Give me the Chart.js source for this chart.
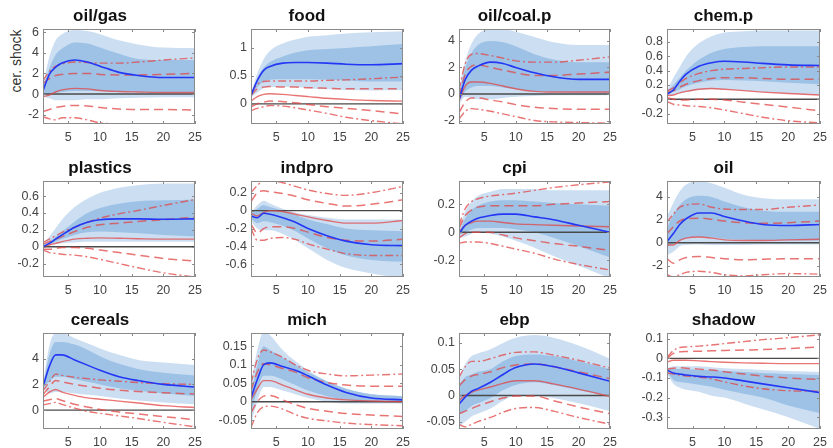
<!DOCTYPE html>
<html>
<head>
<meta charset="utf-8">
<script src="https://cdn.jsdelivr.net/npm/chart.js@4.4.1/dist/chart.umd.min.js"></script>
<style>
  body { margin:0; background:#fff; width:833px; height:448px; position:relative; overflow:hidden; }
  canvas { position:absolute; }
  #ylab { position:absolute; left:16px; top:61px; transform:translate(-50%,-50%) rotate(-90deg);
          font:14px 'Liberation Sans', Arial, sans-serif; color:#333; white-space:nowrap; }
</style>
</head>
<body>
<div id="ylab">cer. shock</div>
<script>
var horizons = [1, 2, 3, 4, 6, 8, 10, 13, 16, 20, 25];
var xTicks = [5, 10, 15, 20, 25];

var titles = ["oil/gas", "food", "oil/coal.p", "chem.p", "plastics", "indpro", "cpi", "oil", "cereals", "mich", "ebp", "shadow"];

var yMin = [-2.9, -0.36, -2.26, -0.345, -0.36, -0.74, -0.32, -3.0, -1.47, -0.074, -0.064, -0.36];
var yMax = [6.3, 1.34, 4.9, 0.98, 0.78, 0.33, 0.367, 5.4, 6.0, 0.186, 0.119, 0.129];
var yTicks = [
  [-2, 0, 2, 4, 6], [0, 0.5, 1], [-2, 0, 2, 4], [-0.2, 0, 0.2, 0.4, 0.6, 0.8],
  [-0.2, 0, 0.2, 0.4, 0.6], [-0.6, -0.4, -0.2, 0, 0.2], [-0.2, 0, 0.2], [-2, 0, 2, 4],
  [0, 2, 4], [-0.05, 0, 0.05, 0.1, 0.15], [-0.05, 0, 0.05, 0.1], [-0.3, -0.2, -0.1, 0, 0.1]
];

// blue median response
var median = [
  [0.3, 1.9, 2.6, 3.0, 3.3, 3.1, 2.7, 2.1, 1.8, 1.6, 1.6],
  [0.15, 0.42, 0.6, 0.67, 0.73, 0.74, 0.74, 0.73, 0.71, 0.7, 0.72],
  [-0.45, 1.1, 1.8, 2.1, 2.4, 2.3, 2.0, 1.6, 1.3, 1.1, 1.1],
  [0.07, 0.13, 0.25, 0.35, 0.46, 0.51, 0.53, 0.52, 0.5, 0.48, 0.47],
  [0.0, 0.04, 0.09, 0.14, 0.23, 0.29, 0.32, 0.33, 0.33, 0.325, 0.33],
  [-0.06, -0.08, -0.03, -0.04, -0.08, -0.13, -0.2, -0.28, -0.34, -0.38, -0.39],
  [-0.01, 0.05, 0.08, 0.1, 0.12, 0.13, 0.13, 0.11, 0.09, 0.05, 0.0],
  [0.1, 0.8, 1.6, 2.1, 2.6, 2.6, 2.3, 1.9, 1.6, 1.5, 1.6],
  [1.8, 3.4, 4.3, 4.3, 3.9, 3.5, 3.1, 2.6, 2.3, 2.0, 1.8],
  [0.01, 0.06, 0.1, 0.105, 0.095, 0.085, 0.07, 0.045, 0.025, 0.01, 0.005],
  [-0.017, -0.003, 0.008, 0.013, 0.025, 0.04, 0.053, 0.06, 0.055, 0.043, 0.027],
  [-0.06, -0.075, -0.08, -0.085, -0.092, -0.095, -0.1, -0.115, -0.13, -0.15, -0.175]
];

// shaded bands
var outerHi = [
  [0.9, 3.6, 5.2, 5.8, 6.2, 6.1, 5.8, 5.2, 4.8, 4.5, 4.45],
  [0.2, 0.55, 0.8, 0.95, 1.08, 1.15, 1.2, 1.23, 1.26, 1.28, 1.3],
  [0.3, 2.5, 3.8, 4.5, 4.9, 4.9, 4.7, 4.3, 3.9, 3.7, 3.7],
  [0.12, 0.3, 0.45, 0.6, 0.78, 0.88, 0.93, 0.95, 0.96, 0.96, 0.96],
  [0.02, 0.12, 0.22, 0.32, 0.47, 0.57, 0.64, 0.7, 0.73, 0.75, 0.75],
  [-0.02, 0.06, 0.11, 0.08, 0.02, -0.02, -0.05, -0.08, -0.1, -0.1, -0.1],
  [0.02, 0.15, 0.22, 0.26, 0.29, 0.31, 0.31, 0.31, 0.3, 0.3, 0.3],
  [2.3, 3.5, 4.5, 5.1, 5.4, 5.2, 4.8, 4.2, 3.9, 3.8, 3.8],
  [2.0, 5.0, 6.0, 6.0, 5.6, 5.2, 4.8, 4.3, 3.9, 3.7, 3.5],
  [0.05, 0.14, 0.19, 0.18, 0.14, 0.11, 0.085, 0.055, 0.035, 0.02, 0.015],
  [0.035, 0.06, 0.075, 0.08, 0.088, 0.1, 0.11, 0.115, 0.11, 0.095, 0.07],
  [-0.05, -0.04, -0.04, -0.04, -0.04, -0.045, -0.05, -0.055, -0.06, -0.065, -0.07]
];
var outerLo = [
  [-0.25, -0.4, -0.6, -0.6, -0.6, -0.5, -0.5, -0.4, -0.35, -0.3, -0.3],
  [0.12, 0.2, 0.28, 0.3, 0.3, 0.3, 0.28, 0.26, 0.25, 0.24, 0.25],
  [-0.8, -0.2, -0.3, -0.4, -0.4, -0.3, -0.2, -0.15, -0.1, -0.1, -0.1],
  [0.05, 0.06, 0.08, 0.1, 0.13, 0.14, 0.14, 0.12, 0.1, 0.08, 0.06],
  [0.0, 0.02, 0.03, 0.04, 0.05, 0.06, 0.06, 0.06, 0.06, 0.06, 0.06],
  [-0.12, -0.2, -0.22, -0.22, -0.26, -0.33, -0.42, -0.55, -0.64, -0.7, -0.76],
  [-0.04, -0.03, -0.01, 0.0, -0.01, -0.03, -0.06, -0.11, -0.17, -0.24, -0.33],
  [-1.1, -0.8, -0.3, -0.2, -0.15, -0.2, -0.2, -0.2, -0.15, -0.15, -0.15],
  [1.8, 1.3, 1.4, 1.4, 1.3, 1.2, 1.1, 0.9, 0.75, 0.6, 0.45],
  [-0.06, 0.0, 0.04, 0.04, 0.03, 0.02, 0.01, 0.0, -0.005, -0.005, -0.005],
  [-0.06, -0.05, -0.04, -0.035, -0.025, -0.01, 0.0, 0.0, -0.005, -0.015, -0.03],
  [-0.08, -0.13, -0.15, -0.16, -0.17, -0.19, -0.2, -0.23, -0.26, -0.3, -0.36]
];
var innerHi = [
  [0.6, 2.5, 3.8, 4.4, 5.0, 4.9, 4.5, 3.9, 3.4, 3.3, 3.3],
  [0.18, 0.45, 0.65, 0.75, 0.85, 0.92, 0.96, 0.98, 1.0, 1.03, 1.07],
  [0.0, 2.0, 3.1, 3.7, 4.0, 3.9, 3.6, 3.0, 2.6, 2.4, 2.4],
  [0.1, 0.2, 0.3, 0.4, 0.55, 0.65, 0.7, 0.73, 0.74, 0.74, 0.74],
  [0.01, 0.06, 0.12, 0.18, 0.3, 0.4, 0.46, 0.51, 0.54, 0.55, 0.56],
  [-0.03, 0.02, 0.06, 0.04, 0.0, -0.05, -0.1, -0.15, -0.2, -0.22, -0.23],
  [0.0, 0.1, 0.16, 0.19, 0.22, 0.23, 0.23, 0.22, 0.21, 0.2, 0.19],
  [1.3, 2.5, 3.3, 3.8, 4.1, 4.0, 3.6, 3.1, 2.8, 2.7, 2.7],
  [1.9, 4.3, 5.3, 5.3, 5.1, 4.7, 4.2, 3.6, 3.2, 2.9, 2.7],
  [0.02, 0.1, 0.15, 0.14, 0.12, 0.1, 0.08, 0.055, 0.035, 0.02, 0.015],
  [0.02, 0.035, 0.04, 0.045, 0.05, 0.065, 0.075, 0.078, 0.075, 0.065, 0.05],
  [-0.055, -0.055, -0.055, -0.055, -0.06, -0.06, -0.065, -0.07, -0.075, -0.08, -0.085]
];
var innerLo = [
  [0.0, 0.0, 0.1, 0.2, 0.3, 0.3, 0.3, 0.2, 0.2, 0.1, 0.1],
  [0.15, 0.3, 0.4, 0.43, 0.44, 0.44, 0.44, 0.43, 0.42, 0.4, 0.4],
  [-0.6, 0.2, 0.5, 0.6, 0.6, 0.5, 0.35, 0.2, 0.15, 0.1, 0.1],
  [0.07, 0.1, 0.14, 0.18, 0.23, 0.26, 0.27, 0.26, 0.25, 0.23, 0.21],
  [0.0, 0.03, 0.06, 0.09, 0.14, 0.17, 0.18, 0.17, 0.16, 0.14, 0.12],
  [-0.09, -0.14, -0.12, -0.13, -0.17, -0.23, -0.31, -0.42, -0.5, -0.55, -0.57],
  [-0.02, 0.0, 0.02, 0.03, 0.03, 0.03, 0.02, 0.0, -0.04, -0.1, -0.18],
  [-0.4, -0.1, 0.2, 0.4, 0.5, 0.45, 0.35, 0.25, 0.2, 0.2, 0.2],
  [1.8, 2.2, 2.6, 2.6, 2.4, 2.2, 2.0, 1.7, 1.5, 1.3, 1.1],
  [-0.03, 0.03, 0.07, 0.07, 0.06, 0.045, 0.03, 0.015, 0.005, 0.0, 0.0],
  [-0.035, -0.03, -0.02, -0.015, -0.005, 0.01, 0.02, 0.025, 0.02, 0.01, 0.0],
  [-0.07, -0.11, -0.12, -0.125, -0.135, -0.145, -0.16, -0.18, -0.2, -0.24, -0.28]
];

// red comparison responses: solid, dashed bounds, dash-dot bounds
var redMid = [
  [-0.25, -0.1, 0.2, 0.4, 0.55, 0.5, 0.35, 0.25, 0.2, 0.15, 0.15],
  [0.05, 0.13, 0.17, 0.18, 0.17, 0.15, 0.13, 0.1, 0.08, 0.06, 0.05],
  [-0.5, 0.6, 0.9, 0.9, 0.8, 0.6, 0.4, 0.2, 0.15, 0.15, 0.15],
  [0.05, 0.06, 0.09, 0.11, 0.14, 0.15, 0.14, 0.12, 0.1, 0.08, 0.06],
  [0.0, 0.02, 0.04, 0.06, 0.09, 0.1, 0.105, 0.1, 0.095, 0.09, 0.09],
  [-0.03, -0.06, -0.02, 0.0, -0.01, -0.04, -0.07, -0.11, -0.14, -0.14, -0.11],
  [0.0, 0.05, 0.07, 0.08, 0.08, 0.07, 0.06, 0.055, 0.05, 0.045, 0.04],
  [-0.2, -0.2, 0.2, 0.4, 0.5, 0.4, 0.25, 0.2, 0.2, 0.25, 0.3],
  [1.0, 1.4, 1.6, 1.4, 1.15, 0.95, 0.85, 0.7, 0.55, 0.35, 0.2],
  [0.005, 0.035, 0.057, 0.057, 0.045, 0.032, 0.02, 0.01, 0.005, 0.002, 0.0],
  [-0.01, 0.0, 0.006, 0.01, 0.016, 0.023, 0.028, 0.028, 0.022, 0.012, -0.002],
  [-0.02, -0.01, -0.01, -0.01, -0.013, -0.017, -0.02, -0.023, -0.025, -0.027, -0.027]
];
var redDashHi = [
  [1.0, 1.5, 1.8, 1.9, 2.0, 2.0, 1.9, 1.85, 1.85, 1.9, 2.0],
  [0.15, 0.27, 0.3, 0.31, 0.3, 0.3, 0.29, 0.28, 0.27, 0.27, 0.27],
  [-0.2, 1.5, 2.1, 2.2, 2.0, 1.8, 1.6, 1.4, 1.4, 1.5, 1.65],
  [0.1, 0.12, 0.17, 0.21, 0.26, 0.29, 0.3, 0.3, 0.29, 0.28, 0.28],
  [0.03, 0.06, 0.09, 0.12, 0.18, 0.23, 0.26, 0.28, 0.3, 0.32, 0.35],
  [0.1, 0.2, 0.22, 0.21, 0.19, 0.16, 0.12, 0.08, 0.05, 0.07, 0.12],
  [0.03, 0.12, 0.16, 0.18, 0.19, 0.19, 0.19, 0.19, 0.2, 0.21, 0.22],
  [0.8, 1.4, 1.9, 2.1, 2.15, 2.05, 1.9, 1.75, 1.7, 1.75, 1.9],
  [1.2, 1.8, 2.3, 2.2, 2.0, 1.85, 1.7, 1.55, 1.45, 1.35, 1.25],
  [0.03, 0.08, 0.103, 0.1, 0.09, 0.08, 0.065, 0.052, 0.045, 0.042, 0.042],
  [0.018, 0.03, 0.037, 0.04, 0.045, 0.053, 0.058, 0.06, 0.055, 0.045, 0.032],
  [0.0, 0.025, 0.033, 0.035, 0.036, 0.038, 0.04, 0.042, 0.045, 0.05, 0.058]
];
var redDashLo = [
  [-1.7, -1.5, -1.3, -1.2, -1.1, -1.15, -1.3, -1.45, -1.5, -1.5, -1.55],
  [-0.05, 0.0, 0.03, 0.05, 0.04, 0.02, -0.01, -0.05, -0.08, -0.12, -0.18],
  [-1.4, -0.6, -0.3, -0.3, -0.45, -0.6, -0.8, -1.0, -1.1, -1.15, -1.15],
  [0.02, 0.0, -0.01, -0.01, 0.0, 0.0, -0.01, -0.04, -0.07, -0.11, -0.16],
  [-0.03, -0.03, -0.02, -0.01, -0.01, -0.02, -0.04, -0.07, -0.1, -0.14, -0.17],
  [-0.15, -0.25, -0.2, -0.18, -0.18, -0.2, -0.24, -0.3, -0.33, -0.34, -0.32],
  [-0.04, -0.01, 0.0, 0.0, 0.0, -0.02, -0.04, -0.06, -0.08, -0.1, -0.13],
  [-1.4, -1.8, -1.5, -1.3, -1.2, -1.3, -1.4, -1.5, -1.45, -1.4, -1.4],
  [0.7, 0.8, 0.9, 0.75, 0.45, 0.25, 0.05, -0.15, -0.3, -0.5, -0.75],
  [-0.03, 0.0, 0.015, 0.017, 0.005, -0.008, -0.018, -0.026, -0.032, -0.036, -0.04],
  [-0.035, -0.03, -0.025, -0.02, -0.012, -0.005, -0.001, -0.001, -0.01, -0.022, -0.035],
  [-0.055, -0.05, -0.048, -0.05, -0.055, -0.06, -0.068, -0.08, -0.09, -0.1, -0.108]
];
var redDotHi = [
  [1.3, 2.2, 2.7, 2.9, 3.1, 3.05, 3.0, 3.0, 3.1, 3.3, 3.5],
  [0.2, 0.35, 0.4, 0.41, 0.41, 0.41, 0.41, 0.42, 0.43, 0.45, 0.48],
  [0.3, 2.3, 3.0, 3.05, 2.9, 2.7, 2.5, 2.4, 2.4, 2.55, 2.8],
  [0.12, 0.16, 0.23, 0.29, 0.36, 0.4, 0.42, 0.43, 0.44, 0.45, 0.45],
  [0.05, 0.09, 0.13, 0.17, 0.23, 0.29, 0.34, 0.39, 0.43, 0.49, 0.56],
  [0.2, 0.28, 0.33, 0.33, 0.31, 0.27, 0.23, 0.19, 0.17, 0.2, 0.27],
  [0.05, 0.17, 0.22, 0.24, 0.26, 0.27, 0.28, 0.3, 0.32, 0.34, 0.36],
  [1.8, 2.5, 3.1, 3.3, 3.4, 3.1, 2.95, 2.9, 2.9, 3.1, 3.3],
  [1.5, 2.2, 2.8, 2.7, 2.55, 2.45, 2.35, 2.25, 2.15, 2.05, 2.0],
  [0.05, 0.115, 0.14, 0.135, 0.12, 0.1, 0.085, 0.075, 0.07, 0.072, 0.075],
  [0.035, 0.055, 0.065, 0.065, 0.07, 0.077, 0.082, 0.083, 0.077, 0.067, 0.052],
  [0.005, 0.04, 0.055, 0.058, 0.062, 0.068, 0.075, 0.085, 0.095, 0.105, 0.12]
];
var redDotLo = [
  [-2.2, -2.4, -2.5, -2.3, -2.3, -2.5, -2.8, -2.9, -2.95, -3.0, -3.0],
  [-0.12, -0.08, -0.05, -0.03, -0.04, -0.07, -0.11, -0.17, -0.24, -0.3, -0.36],
  [-1.9, -1.3, -1.1, -1.15, -1.3, -1.5, -1.7, -2.0, -2.1, -2.15, -2.2],
  [-0.03, -0.07, -0.08, -0.09, -0.1, -0.12, -0.15, -0.2, -0.25, -0.3, -0.33],
  [-0.04, -0.07, -0.08, -0.09, -0.1, -0.12, -0.15, -0.2, -0.25, -0.31, -0.36],
  [-0.2, -0.33, -0.33, -0.31, -0.3, -0.32, -0.37, -0.43, -0.48, -0.5, -0.5],
  [-0.08, -0.07, -0.07, -0.07, -0.08, -0.1, -0.12, -0.15, -0.19, -0.23, -0.27],
  [-2.8, -3.0, -2.8, -2.6, -2.5, -2.6, -2.8, -2.9, -2.8, -2.7, -2.75],
  [0.4, 0.5, 0.6, 0.45, 0.15, -0.1, -0.25, -0.45, -0.65, -0.95, -1.3],
  [-0.07, -0.03, -0.014, -0.012, -0.02, -0.035, -0.045, -0.052, -0.058, -0.062, -0.065],
  [-0.055, -0.06, -0.055, -0.05, -0.042, -0.032, -0.025, -0.023, -0.03, -0.042, -0.055],
  [-0.075, -0.08, -0.085, -0.09, -0.095, -0.105, -0.12, -0.14, -0.155, -0.165, -0.168]
];

// panel grid (plot box edges in page pixels)
var colLeft = [43, 251, 459, 667];
var colRight = [200, 408, 615, 825];
var rowTop = [29, 181, 333];
var rowBottom = [124, 277, 429];

Chart.defaults.font.family = "'Liberation Sans', Arial, sans-serif";
Chart.defaults.color = '#444';

var lightBlue = 'rgb(204,223,242)';
var darkBlue = 'rgb(157,194,230)';
var blueLine = 'rgb(35,55,245)';
var redLine = 'rgba(226,70,70,0.75)';

function pts(arr) {
  return horizons.map(function (h, k) { return { x: h, y: arr[k] }; });
}
function line(arr, color, w, dash) {
  return { data: pts(arr), borderColor: color, borderWidth: w, borderDash: dash, fill: false,
           pointRadius: 0, cubicInterpolationMode: 'monotone' };
}
function band(arr, fillTo, color) {
  return { data: pts(arr), borderWidth: 0, borderColor: 'rgba(0,0,0,0)', pointRadius: 0,
           fill: fillTo === null ? false : { target: fillTo }, backgroundColor: color,
           cubicInterpolationMode: 'monotone' };
}

// box around the plot with small inward ticks, matlab style
var boxPlugin = {
  id: 'box',
  afterDraw: function (chart) {
    var ctx = chart.ctx, a = chart.chartArea, sx = chart.scales.x, sy = chart.scales.y;
    ctx.save();
    ctx.strokeStyle = '#8a8a8a';
    ctx.lineWidth = 1;
    ctx.strokeRect(Math.round(a.left) + 0.5, Math.round(a.top) + 0.5,
                   Math.round(a.right - a.left) - 1, Math.round(a.bottom - a.top) - 1);
    ctx.beginPath();
    sx.ticks.forEach(function (t) {
      var px = Math.round(sx.getPixelForValue(t.value)) + 0.5;
      ctx.moveTo(px, a.bottom); ctx.lineTo(px, a.bottom - 3);
      ctx.moveTo(px, a.top); ctx.lineTo(px, a.top + 3);
    });
    sy.ticks.forEach(function (t) {
      var py = Math.round(sy.getPixelForValue(t.value)) + 0.5;
      ctx.moveTo(a.left, py); ctx.lineTo(a.left + 3, py);
      ctx.moveTo(a.right, py); ctx.lineTo(a.right - 3, py);
    });
    ctx.stroke();
    ctx.restore();
  }
};

titles.forEach(function (name, i) {
  var r = Math.floor(i / 4), c = i % 4;
  var yw = c === 0 ? colLeft[c] : 45;
  var padR = 8, titleH = 29, xh = 22;
  var cv = document.createElement('canvas');
  cv.width = yw + (colRight[c] - colLeft[c]) + padR;
  cv.height = titleH + (rowBottom[r] - rowTop[r]) + xh;
  cv.style.left = (colLeft[c] - yw) + 'px';
  cv.style.top = (rowTop[r] - titleH) + 'px';
  document.body.appendChild(cv);

  new Chart(cv.getContext('2d'), {
    type: 'line',
    data: {
      datasets: [
        line(median[i], blueLine, 1.6, []),
        line(redMid[i], redLine, 1.4, []),
        line(redDashLo[i], redLine, 1.5, [9, 5]),
        line(redDashHi[i], redLine, 1.5, [9, 5]),
        line(redDotLo[i], redLine, 1.4, [8, 3, 2, 3]),
        line(redDotHi[i], redLine, 1.4, [8, 3, 2, 3]),
        { data: [{ x: 1, y: 0 }, { x: 25, y: 0 }], borderColor: '#4a4a4a', borderWidth: 1.4,
          pointRadius: 0, fill: false },
        band(innerHi[i], 8, darkBlue),
        band(innerLo[i], null, darkBlue),
        band(outerHi[i], 10, lightBlue),
        band(outerLo[i], null, lightBlue)
      ]
    },
    options: {
      responsive: false,
      animation: false,
      devicePixelRatio: 1,
      layout: { padding: { left: 0, right: padR, top: 0, bottom: 0 } },
      plugins: {
        legend: { display: false },
        tooltip: { enabled: false },
        title: { display: true, text: name, color: '#111',
                 font: { size: 17, weight: 'bold', lineHeight: 1 },
                 padding: { top: 8, bottom: 4 } }
      },
      scales: {
        x: {
          type: 'linear', min: 1, max: 25,
          grid: { display: false, drawTicks: false }, border: { display: false },
          afterBuildTicks: function (s) { s.ticks = xTicks.map(function (v) { return { value: v }; }); },
          afterFit: function (s) { s.height = xh; },
          ticks: { font: { size: 12.5 }, color: '#444', padding: 6, maxRotation: 0, autoSkip: false }
        },
        y: {
          min: yMin[i], max: yMax[i],
          grid: { display: false, drawTicks: false }, border: { display: false },
          afterBuildTicks: function (s) { s.ticks = yTicks[i].map(function (v) { return { value: v }; }); },
          afterFit: function (s) { s.width = yw; },
          ticks: { font: { size: 12.5 }, color: '#444', padding: 4, autoSkip: false,
                   callback: function (v) { return String(parseFloat(Number(v).toFixed(4))); } }
        }
      }
    },
    plugins: [boxPlugin]
  });
});
</script>
</body>
</html>
